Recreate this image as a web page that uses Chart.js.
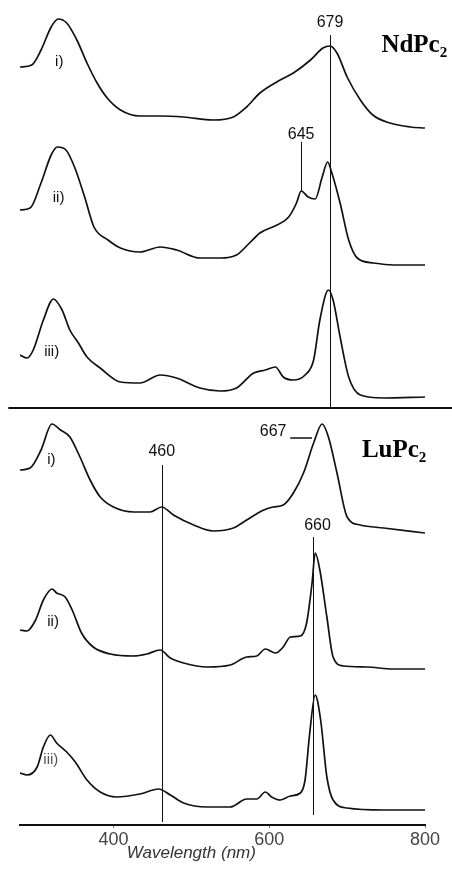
<!DOCTYPE html>
<html>
<head>
<meta charset="utf-8">
<script src="https://cdn.jsdelivr.net/npm/chart.js@4.4.1/dist/chart.umd.min.js"></script>
<style>
    html, body { margin: 0; padding: 0; background: #fff; }
    #wrap { width: 452px; height: 877px; }
</style>
</head>
<body>
<div id="wrap"><canvas id="spectraChart" width="452" height="877"></canvas></div>
<script>
// Wavelengths (nm) and absorbance, relative to its own baseline
const ndI_nm   = [280, 295, 307, 320, 329, 340, 353, 366, 379, 392, 409, 434, 460, 490, 528, 554, 571, 588, 614, 631, 653, 669, 678, 687, 700, 717, 733, 755, 781, 800];
const ndI_abs  = [0.61, 0.63, 0.78, 1.01, 1.09, 1.05, 0.88, 0.65, 0.45, 0.30, 0.18, 0.12, 0.12, 0.11, 0.08, 0.11, 0.21, 0.35, 0.48, 0.55, 0.68, 0.80, 0.82, 0.75, 0.51, 0.28, 0.13, 0.05, 0.01, 0.00];

const ndII_nm  = [280, 293, 307, 320, 328, 339, 350, 363, 375, 393, 409, 434, 460, 481, 511, 537, 558, 576, 588, 610, 625, 635, 641, 650, 659, 668, 675, 680, 691, 702, 713, 734, 759, 800];
const ndII_abs = [0.55, 0.57, 0.82, 1.10, 1.18, 1.15, 0.98, 0.68, 0.38, 0.25, 0.17, 0.13, 0.18, 0.15, 0.07, 0.07, 0.10, 0.23, 0.32, 0.40, 0.48, 0.62, 0.74, 0.68, 0.66, 0.88, 1.03, 0.93, 0.62, 0.25, 0.07, 0.02, 0.00, 0.00];

const ndIII_nm  = [280, 289, 297, 310, 323, 334, 344, 355, 366, 383, 409, 434, 460, 481, 511, 537, 558, 580, 595, 608, 618, 631, 646, 657, 665, 676, 682, 691, 702, 717, 747, 800];
const ndIII_abs = [0.43, 0.40, 0.48, 0.78, 0.99, 0.88, 0.68, 0.55, 0.41, 0.30, 0.16, 0.15, 0.23, 0.20, 0.10, 0.07, 0.10, 0.25, 0.28, 0.31, 0.21, 0.18, 0.23, 0.38, 0.78, 1.08, 0.98, 0.61, 0.21, 0.03, 0.00, 0.01];

const luI_nm   = [280, 293, 307, 321, 332, 344, 357, 370, 383, 400, 426, 447, 462, 477, 503, 528, 554, 571, 593, 605, 618, 631, 644, 657, 668, 676, 687, 700, 717, 747, 800];
const luI_abs  = [0.63, 0.65, 0.83, 1.09, 1.03, 0.96, 0.76, 0.53, 0.36, 0.26, 0.21, 0.21, 0.26, 0.18, 0.08, 0.02, 0.05, 0.13, 0.23, 0.26, 0.28, 0.40, 0.60, 0.90, 1.09, 0.96, 0.60, 0.16, 0.08, 0.05, 0.00];

const luII_nm  = [280, 289, 300, 310, 321, 327, 338, 347, 359, 374, 396, 426, 443, 460, 473, 490, 520, 550, 571, 584, 595, 608, 618, 627, 640, 648, 655, 659, 665, 674, 682, 695, 725, 759, 800];
const luII_abs = [0.39, 0.38, 0.49, 0.69, 0.80, 0.76, 0.72, 0.59, 0.36, 0.22, 0.15, 0.13, 0.15, 0.19, 0.11, 0.06, 0.02, 0.04, 0.12, 0.13, 0.20, 0.16, 0.22, 0.32, 0.33, 0.46, 0.86, 1.16, 0.99, 0.52, 0.12, 0.03, 0.02, 0.00, 0.00];

const luIII_nm  = [280, 289, 302, 310, 319, 327, 340, 351, 366, 383, 404, 434, 458, 473, 490, 520, 550, 571, 584, 595, 603, 614, 627, 640, 646, 652, 659, 666, 674, 682, 700, 747, 800];
const luIII_abs = [0.37, 0.35, 0.43, 0.63, 0.75, 0.67, 0.58, 0.48, 0.30, 0.18, 0.13, 0.16, 0.21, 0.15, 0.07, 0.03, 0.03, 0.11, 0.11, 0.18, 0.13, 0.10, 0.14, 0.17, 0.30, 0.77, 1.15, 0.90, 0.33, 0.10, 0.02, 0.00, 0.00];

// vertical offsets used to stack the six spectra
const traceNames   = ['NdPc2 i', 'NdPc2 ii', 'NdPc2 iii', 'LuPc2 i', 'LuPc2 ii', 'LuPc2 iii'];
const traceOffsets = [6.97, 5.60, 4.27, 2.92, 1.56, 0.15];
const traceLabels  = ['i)', 'ii)', 'iii)', 'i)', 'ii)', 'iii)'];

const xTicks = [400, 600, 800];

const traces = [
    [ndI_nm, ndI_abs], [ndII_nm, ndII_abs], [ndIII_nm, ndIII_abs],
    [luI_nm, luI_abs], [luII_nm, luII_abs], [luIII_nm, luIII_abs]
];

// Text and marker lines, placed in data units
const traceLabelPos = [[325, 7.63], [322, 6.27], [311, 4.73], [315, 3.65], [315, 2.03], [310, 0.65]];

const peakMarkers = [
    { text: '679', x: 678, ty: 8.02, y1: 7.90, y2: 4.17 },
    { text: '645', x: 641, ty: 6.90, y1: 6.83, y2: 6.34 },
    { text: '460', x: 462, ty: 3.73, y1: 3.60, y2: 0.03 },
    { text: '660', x: 662, ty: 2.99, x2: 656, y1: 2.88, y2: 0.10 }
];

const annotationPlugin = {
    id: 'spectraAnnotations',
    afterDatasetsDraw(chart) {
        const ctx = chart.ctx;
        const xs = chart.scales.x;
        const ys = chart.scales.y;
        const px = v => xs.getPixelForValue(v);
        const py = v => ys.getPixelForValue(v);

        ctx.save();
        ctx.fillStyle = '#111';
        ctx.strokeStyle = '#111';

        // separator between the two panels
        ctx.lineWidth = 2;
        ctx.beginPath();
        ctx.moveTo(px(265), Math.round(py(4.17)));
        ctx.lineTo(px(835), Math.round(py(4.17)));
        ctx.stroke();

        // peak markers
        ctx.lineWidth = 1;
        ctx.font = '16px "Liberation Sans", Arial, sans-serif';
        ctx.textAlign = 'center';
        ctx.textBaseline = 'middle';
        peakMarkers.forEach(m => {
            ctx.fillText(m.text, px(m.x), py(m.ty));
            const lx = Math.round(px(m.x2 !== undefined ? m.x2 : m.x)) + 0.5;
            ctx.beginPath();
            ctx.moveTo(lx, py(m.y1));
            ctx.lineTo(lx, py(m.y2));
            ctx.stroke();
        });

        // 667 label with its leader dash
        ctx.fillText('667', px(605), py(3.935));
        ctx.lineWidth = 1.5;
        ctx.beginPath();
        ctx.moveTo(px(627), py(3.87));
        ctx.lineTo(px(655), py(3.87));
        ctx.stroke();

        // trace labels
        ctx.font = '15px "Liberation Sans", Arial, sans-serif';
        ctx.textAlign = 'left';
        traceLabels.forEach((t, i) => {
            ctx.fillStyle = i === 5 ? '#555' : '#111';
            ctx.fillText(t, px(traceLabelPos[i][0]), py(traceLabelPos[i][1]));
        });

        // compound names
        ctx.fillStyle = '#000';
        ctx.textBaseline = 'alphabetic';
        [['NdPc', 744, 7.73], ['LuPc', 719, 3.68]].forEach(([name, x, y]) => {
            ctx.font = 'bold 25px "Liberation Serif", "Times New Roman", serif';
            const w = ctx.measureText(name).width;
            ctx.fillText(name, px(x), py(y));
            ctx.font = 'bold 15px "Liberation Serif", "Times New Roman", serif';
            ctx.fillText('2', px(x) + w, py(y) + 5);
        });

        // axis title
        ctx.fillStyle = '#333';
        ctx.font = 'italic 17px "Liberation Sans", Arial, sans-serif';
        ctx.textAlign = 'center';
        ctx.textBaseline = 'middle';
        ctx.fillText('Wavelength (nm)', px(500), 853);
        ctx.restore();
    }
};

const datasets = traces.map(([nm, abs], i) => ({
    label: traceNames[i],
    data: nm.map((x, j) => ({ x: x, y: abs[j] + traceOffsets[i] })),
    borderColor: '#111',
    borderWidth: 1.7,
    pointRadius: 0,
    fill: false,
    cubicInterpolationMode: 'monotone'
}));

new Chart(document.getElementById('spectraChart').getContext('2d'), {
    type: 'line',
    data: { datasets: datasets },
    options: {
        responsive: false,
        animation: false,
        layout: { padding: { left: 20, right: 27, top: 0, bottom: 0 } },
        plugins: {
            legend: { display: false },
            tooltip: { enabled: false }
        },
        scales: {
            x: {
                type: 'linear',
                min: 280,
                max: 800,
                afterBuildTicks: scale => { scale.ticks = xTicks.map(v => ({ value: v })); },
                afterFit: scale => { scale.height = 52; },
                border: { display: true, color: '#111', width: 2 },
                grid: { drawOnChartArea: false, drawTicks: true, tickLength: 3, color: '#777' },
                ticks: {
                    padding: 1,
                    color: '#444',
                    font: { family: '"Liberation Sans", Arial, sans-serif', size: 18 },
                    maxRotation: 0
                }
            },
            y: {
                display: false,
                min: 0,
                max: 8.25
            }
        }
    },
    plugins: [annotationPlugin]
});
</script>
</body>
</html>
